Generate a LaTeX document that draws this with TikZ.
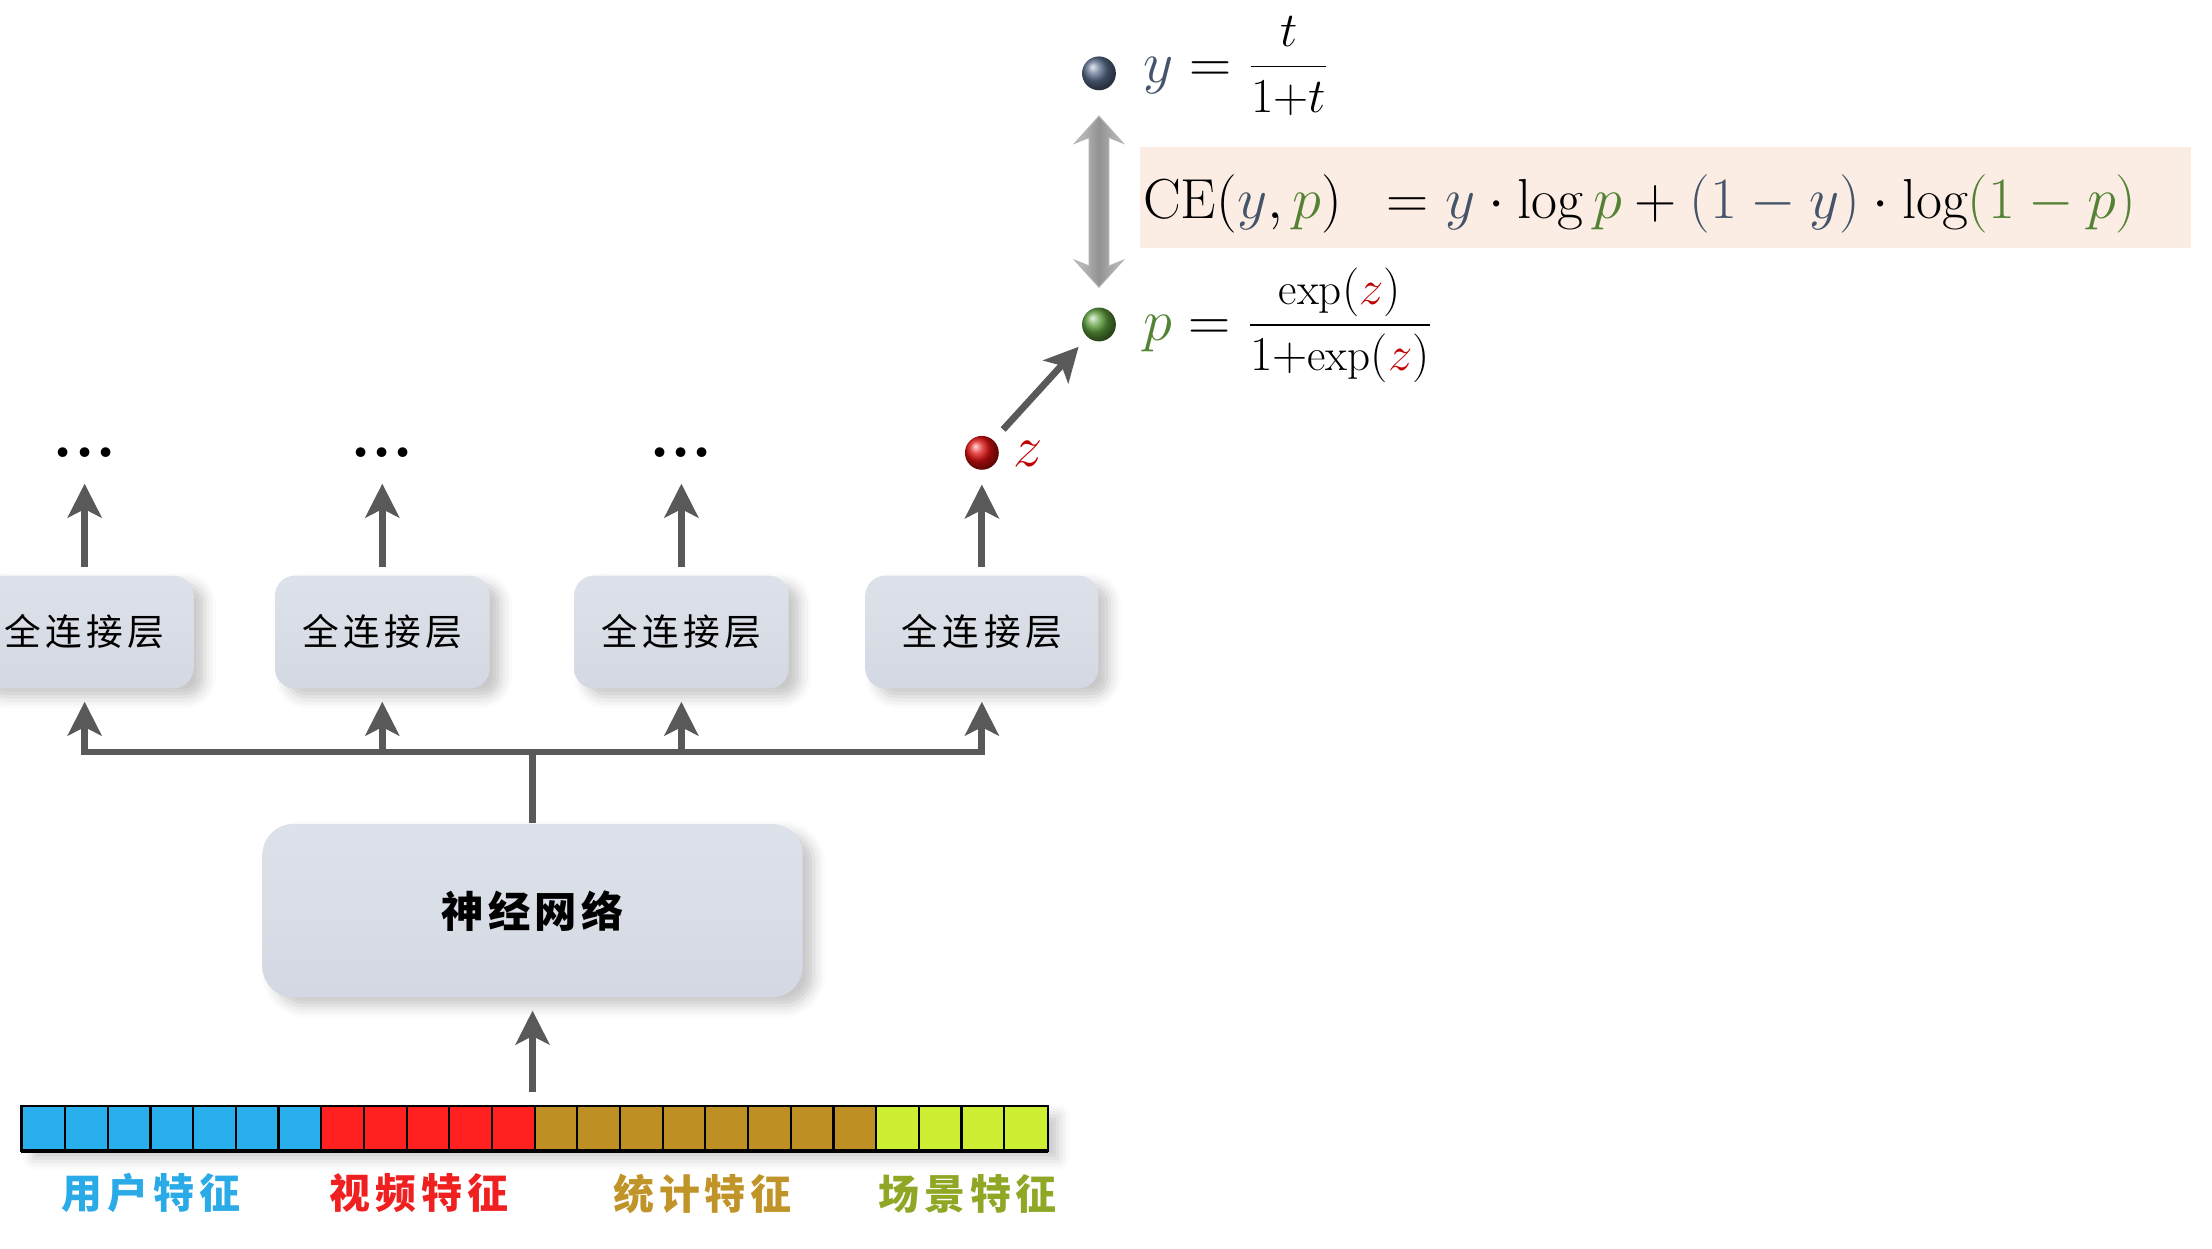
\documentclass[tikz,border=0pt]{standalone}
\usepackage{fontspec}
\newfontfamily\cjk{Noto Sans CJK SC}
\usetikzlibrary{arrows.meta,shadows.blur,calc}
\definecolor{boxfill}{HTML}{DDE2EA}
\definecolor{boxfillb}{HTML}{D3D8E2}
\definecolor{arrowgray}{HTML}{595959}
\definecolor{ycol}{HTML}{44546A}
\definecolor{pcol}{HTML}{548235}
\definecolor{zcol}{HTML}{C00000}
\definecolor{cblue}{HTML}{29B0EC}
\definecolor{cred}{HTML}{FF2020}
\definecolor{cgold}{HTML}{BE9023}
\definecolor{clime}{HTML}{CCEE33}
\definecolor{lblue}{HTML}{2AAAE6}
\definecolor{lred}{HTML}{F02020}
\definecolor{lgold}{HTML}{C09428}
\definecolor{lgreen}{HTML}{8EA826}
\definecolor{ceback}{HTML}{FCEDE4}
\definecolor{yball}{HTML}{5A6E8C}
\definecolor{pball}{HTML}{5E9E3C}
\definecolor{zball}{HTML}{E01010}
\newcommand{\smallfrac}[2]{\raisebox{1.25pt}{\fontsize{16}{19}\selectfont$\displaystyle\frac{#1}{#2}$}}
\begin{document}
\begin{tikzpicture}[x=0.5pt,y=-0.5pt,
  myshadow/.style={blur shadow={shadow xshift=4pt,shadow yshift=-3pt,shadow blur radius=4pt,shadow opacity=22}},
  fcbox/.style={top color=boxfill, bottom color=boxfillb, rounded corners=7pt, minimum height=40pt, inner sep=0pt, myshadow,
    font=\cjk\fontsize{13}{15}\selectfont\addfontfeature{LetterSpace=12}},
  nnbox/.style={top color=boxfill, bottom color=boxfillb, rounded corners=11pt, inner sep=0pt, myshadow,
    font=\cjk\bfseries\fontsize{15}{17}\selectfont\addfontfeature{LetterSpace=10}},
  dotsty/.style={inner sep=0pt, font=\fontsize{24}{24}\bfseries\selectfont},
  ball/.style={circle, minimum size=12pt, inner sep=0pt},
  arr/.style={draw=arrowgray, line width=2.4pt, -{Stealth[length=12pt,width=12pt,inset=3pt]}},
  conn/.style={draw=arrowgray, line width=2.4pt},
  flabel/.style={font=\cjk\bfseries\fontsize{14.5}{17}\selectfont\addfontfeature{LetterSpace=12}},
  mathf/.style={inner sep=0pt, anchor=base west}
]
\useasboundingbox (0,0) rectangle (1568,885);

% feature bar
\node[draw=black, fill=white, line width=0.8pt, minimum width=363pt, minimum height=15pt, inner sep=0pt, myshadow] (bar) at (379,800) {};
\foreach \i in {0,...,6}   \fill[cblue] ({16+\i*30.25},785) rectangle ++(30.25,30);
\foreach \i in {7,...,11}  \fill[cred]  ({16+\i*30.25},785) rectangle ++(30.25,30);
\foreach \i in {12,...,19} \fill[cgold] ({16+\i*30.25},785) rectangle ++(30.25,30);
\foreach \i in {20,...,23} \fill[clime] ({16+\i*30.25},785) rectangle ++(30.25,30);
\foreach \i in {1,...,23}  \draw[black, line width=0.8pt] ({16+\i*30.25},785) -- ++(0,30);
\draw[black, line width=0.8pt] (bar.north west) rectangle (bar.south east);
\draw[black, line width=1.6pt] (bar.south west) -- (bar.south east);

\node[flabel, text=lblue]  (l1) at (107,846) {用户特征};
\node[flabel, text=lred]   (l2) at (297,846) {视频特征};
\node[flabel, text=lgold]  (l3) at (498,846) {统计特征};
\node[flabel, text=lgreen] (l4) at (686,846) {场景特征};

% neural net
\node[nnbox, minimum width=191.5pt, minimum height=61.5pt] (nn) at (377.5,645.5) {神经网络};

% fully connected layers
\node[fcbox, minimum width=77pt]   (fc1) at (60,448)  {全连接层};
\node[fcbox, minimum width=76pt]   (fc2) at (271,448) {全连接层};
\node[fcbox, minimum width=76pt]   (fc3) at (483,448) {全连接层};
\node[fcbox, minimum width=82.5pt] (fc4) at (696,448) {全连接层};

% dots and balls
\node[dotsty] (d1) at (60,321)  {...};
\node[dotsty] (d2) at (271,321) {...};
\node[dotsty] (d3) at (483,321) {...};
\node[ball, ball color=zball] (zb) at (696,321) {};
\node[ball, ball color=pball] (pb) at (779,230) {};
\node[ball, ball color=yball] (yb) at (779,52) {};
\node[inner sep=0pt, anchor=west, text=zcol, font=\fontsize{20}{20}\selectfont] (zl) at (718,322) {$z$};

% connectors
\draw[arr, shorten <=5pt, shorten >=4.5pt] (nn.south |- bar.north) -- (nn.south);
\coordinate (jn) at (377.5,533);
\draw[conn] (nn.north) -- (jn);
\draw[conn, line cap=rect] (fc1.south |- jn) -- (fc4.south |- jn);
\foreach \f in {fc1,fc2,fc3,fc4}
  \draw[arr, shorten >=4.5pt] (\f.south |- jn) -- (\f.south);
\draw[arr, shorten <=3pt, shorten >=9pt] (fc1.north) -- (d1.south);
\draw[arr, shorten <=3pt, shorten >=9pt] (fc2.north) -- (d2.south);
\draw[arr, shorten <=3pt, shorten >=9pt] (fc3.north) -- (d3.south);
\draw[arr, shorten <=3pt, shorten >=5pt] (fc4.north) -- (zb.south);
\draw[arr, shorten <=5pt, shorten >=4.5pt] (zb) -- (pb);

% double arrow between y and p
\coordinate (dt) at ($(yb.south)+(0,18)$);
\coordinate (db) at ($(pb.north)+(0,-14)$);
\shade[left color=gray!45, right color=gray!50, middle color=gray!85, draw=gray!60, line width=0.4pt]
  (dt) -- ($(dt)+(17,19)$) -- ($(dt)+(7,15)$) -- ($(db)+(7,-15)$) -- ($(db)+(17,-19)$) -- (db)
  -- ($(db)+(-17,-19)$) -- ($(db)+(-7,-15)$) -- ($(dt)+(-7,15)$) -- ($(dt)+(-17,19)$) -- cycle;

% formulas
\fill[ceback] (808,104) rectangle (1553,176);
\node[mathf, font=\fontsize{21}{25}\selectfont] (yf) at (810,58.5)
  {$\textcolor{ycol}{y}=\smallfrac{t}{1{+}t}$};
\node[mathf, font=\fontsize{20}{24}\selectfont] (cef) at (810,155)
  {$\mathrm{CE}(\textcolor{ycol}{y},\textcolor{pcol}{p})\enspace=\textcolor{ycol}{y}\cdot\log\textcolor{pcol}{p}+\textcolor{ycol}{(1-y)}\cdot\log\!\textcolor{pcol}{(1-p)}$};
\node[mathf, font=\fontsize{21}{25}\selectfont] (pf) at (810,241.5)
  {$\textcolor{pcol}{p}=\smallfrac{\mathrm{exp}(\textcolor{zcol}{z})}{1{+}\mathrm{exp}(\textcolor{zcol}{z})}$};
\end{tikzpicture}
\end{document}
